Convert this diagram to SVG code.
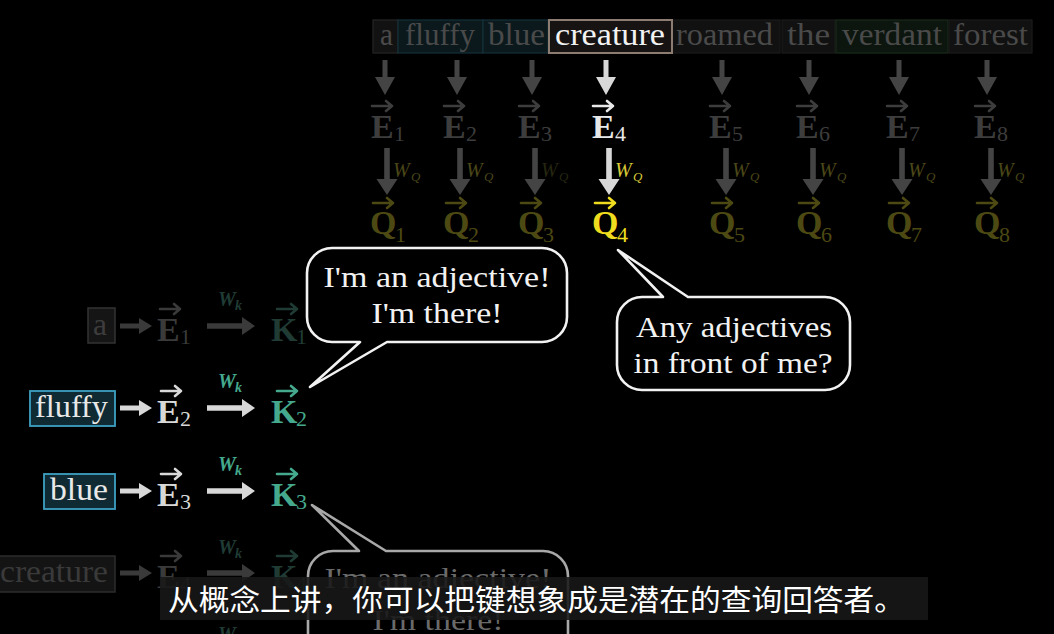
<svg xmlns="http://www.w3.org/2000/svg" xmlns:xlink="http://www.w3.org/1999/xlink" width="1054" height="634" viewBox="0 0 1054 634">
<style>
.word{font-family:"Liberation Serif","DejaVu Serif",serif;font-size:31px}
.vecl{font-family:"Liberation Serif","DejaVu Serif",serif;font-size:34px;font-weight:bold}
.sub{font-weight:normal;font-size:22px}
.wq{font-family:"Liberation Serif","DejaVu Serif",serif;font-size:20px;font-style:italic}
.wk{font-family:"Liberation Serif","DejaVu Serif",serif;font-size:20px;font-style:italic;font-weight:bold}
.bub{font-family:"Liberation Serif","DejaVu Serif",serif;font-size:30px;text-anchor:middle}
.fg{fill:#3d3d3d}
.fa{fill:#444}
.wh{fill:#e8e8e8}
.wa{fill:#d8d8d8}
.fq{fill:#4d4913}
.fw{fill:#4a4718}
.yq{fill:#f0dc1f}
.yw{fill:#d8c838}
.tl{fill:#45a98d}
.ftl{fill:#1f3b34}
.vs{fill:none;stroke-width:2.6;stroke-linecap:round;stroke-linejoin:round}
.bubble{fill:#000;stroke:#f2f2f2;stroke-width:2.6;stroke-linejoin:round}
</style>
<defs>
<path id="vec" d="M0,0 H20 M14,-5 L20,0 L14,5"/>
<path id="da1" d="M-2.5,0 H2.5 V17 H10 L0,35 L-10,17 H-2.5 Z"/>
<path id="da2" d="M-2.8,0 H2.8 V31 H10.5 L0,47 L-10.5,31 H-2.8 Z"/>
<path id="ra1" d="M0,-2.5 H19 V-8 L32,0 L19,8 V2.5 H0 Z"/>
<path id="ra2" d="M0,-2.8 H35 V-9 L48,0 L35,9 V2.8 H0 Z"/>
</defs>
<rect width="1054" height="634" fill="#000"/>

<g id="sentence">
<rect x="373" y="20" width="25" height="33" fill="#121212" stroke="#262626" stroke-width="1.2"/>
<rect x="398" y="20" width="85" height="33" fill="#0b191d" stroke="#15303a" stroke-width="1.2"/>
<rect x="483" y="20" width="65" height="33" fill="#0b191d" stroke="#15303a" stroke-width="1.2"/>
<rect x="672" y="20" width="108" height="33" fill="#111" stroke="#1c1c1c" stroke-width="1.2"/>
<rect x="782" y="20" width="53" height="33" fill="#111" stroke="#1c1c1c" stroke-width="1.2"/>
<rect x="836" y="20" width="112" height="33" fill="#0c160e" stroke="#1a2a1c" stroke-width="1.2"/>
<rect x="949" y="20" width="83" height="33" fill="#111" stroke="#1c1c1c" stroke-width="1.2"/>
<rect x="549" y="20" width="123" height="33" fill="#161312" stroke="#8c7c72" stroke-width="2"/>
<text class="word" fill="#4a4a4a" x="380" y="45" textLength="13" lengthAdjust="spacingAndGlyphs">a</text>
<text class="word" fill="#4a4a4a" x="405" y="45" textLength="70" lengthAdjust="spacingAndGlyphs">fluffy</text>
<text class="word" fill="#4a4a4a" x="488" y="45" textLength="57" lengthAdjust="spacingAndGlyphs">blue</text>
<text class="word" fill="#f2f2f2" x="555" y="45" textLength="110" lengthAdjust="spacingAndGlyphs">creature</text>
<text class="word" fill="#4a4a4a" x="676" y="45" textLength="97" lengthAdjust="spacingAndGlyphs">roamed</text>
<text class="word" fill="#4a4a4a" x="787" y="45" textLength="43" lengthAdjust="spacingAndGlyphs">the</text>
<text class="word" fill="#4a4a4a" x="842" y="45" textLength="100" lengthAdjust="spacingAndGlyphs">verdant</text>
<text class="word" fill="#4a4a4a" x="953" y="45" textLength="75" lengthAdjust="spacingAndGlyphs">forest</text>
</g>

<g id="E-top">
<g id="E1"><use href="#vec" x="372" y="106" class="vs" stroke="#3d3d3d"/><text class="vecl fg" x="371" y="138">E<tspan class="sub" x="394" y="141">1</tspan></text></g>
<g id="E2"><use href="#vec" x="444" y="106" class="vs" stroke="#3d3d3d"/><text class="vecl fg" x="443" y="138">E<tspan class="sub" x="466" y="141">2</tspan></text></g>
<g id="E3"><use href="#vec" x="519" y="106" class="vs" stroke="#3d3d3d"/><text class="vecl fg" x="518" y="138">E<tspan class="sub" x="541" y="141">3</tspan></text></g>
<g id="E4"><use href="#vec" x="593" y="106" class="vs" stroke="#e8e8e8"/><text class="vecl wh" x="592" y="138">E<tspan class="sub" x="615" y="141">4</tspan></text></g>
<g id="E5"><use href="#vec" x="710" y="106" class="vs" stroke="#3d3d3d"/><text class="vecl fg" x="709" y="138">E<tspan class="sub" x="732" y="141">5</tspan></text></g>
<g id="E6"><use href="#vec" x="797" y="106" class="vs" stroke="#3d3d3d"/><text class="vecl fg" x="796" y="138">E<tspan class="sub" x="819" y="141">6</tspan></text></g>
<g id="E7"><use href="#vec" x="887" y="106" class="vs" stroke="#3d3d3d"/><text class="vecl fg" x="886" y="138">E<tspan class="sub" x="909" y="141">7</tspan></text></g>
<g id="E8"><use href="#vec" x="975" y="106" class="vs" stroke="#3d3d3d"/><text class="vecl fg" x="974" y="138">E<tspan class="sub" x="997" y="141">8</tspan></text></g>
</g>

<g id="Q-top">
<g id="Q1"><use href="#vec" x="373" y="203" class="vs" stroke="#4d4913"/><text class="vecl fq" x="370" y="234">Q<tspan class="sub" x="395" y="242">1</tspan></text></g>
<g id="Q2"><use href="#vec" x="446" y="203" class="vs" stroke="#4d4913"/><text class="vecl fq" x="443" y="234">Q<tspan class="sub" x="468" y="242">2</tspan></text></g>
<g id="Q3"><use href="#vec" x="521" y="203" class="vs" stroke="#4d4913"/><text class="vecl fq" x="518" y="234">Q<tspan class="sub" x="543" y="242">3</tspan></text></g>
<g id="Q4"><use href="#vec" x="595" y="203" class="vs" stroke="#f0dc1f"/><text class="vecl yq" x="592" y="234">Q<tspan class="sub" x="617" y="242">4</tspan></text></g>
<g id="Q5"><use href="#vec" x="712" y="203" class="vs" stroke="#4d4913"/><text class="vecl fq" x="709" y="234">Q<tspan class="sub" x="734" y="242">5</tspan></text></g>
<g id="Q6"><use href="#vec" x="799" y="203" class="vs" stroke="#4d4913"/><text class="vecl fq" x="796" y="234">Q<tspan class="sub" x="821" y="242">6</tspan></text></g>
<g id="Q7"><use href="#vec" x="889" y="203" class="vs" stroke="#4d4913"/><text class="vecl fq" x="886" y="234">Q<tspan class="sub" x="911" y="242">7</tspan></text></g>
<g id="Q8"><use href="#vec" x="977" y="203" class="vs" stroke="#4d4913"/><text class="vecl fq" x="974" y="234">Q<tspan class="sub" x="999" y="242">8</tspan></text></g>
</g>

<g id="WQ-labels">
<text class="wq fw" x="393" y="177">W<tspan font-size="13" x="411" y="181">Q</tspan></text>
<text class="wq fw" x="466" y="177">W<tspan font-size="13" x="484" y="181">Q</tspan></text>
<text class="wq" fill="#262610" x="541" y="177">W<tspan font-size="13" x="559" y="181">Q</tspan></text>
<text class="wq yw" x="615" y="177">W<tspan font-size="13" x="633" y="181">Q</tspan></text>
<text class="wq fw" x="732" y="177">W<tspan font-size="13" x="750" y="181">Q</tspan></text>
<text class="wq fw" x="819" y="177">W<tspan font-size="13" x="837" y="181">Q</tspan></text>
<text class="wq fw" x="908" y="177">W<tspan font-size="13" x="926" y="181">Q</tspan></text>
<text class="wq fw" x="997" y="177">W<tspan font-size="13" x="1015" y="181">Q</tspan></text>
</g>

<g id="row-a">
<rect x="88" y="308" width="27" height="35" fill="#151515" stroke="#333" stroke-width="1.5"/>
<text class="word" fill="#3d3d3d" x="93" y="335" textLength="14" lengthAdjust="spacingAndGlyphs">a</text>
<use href="#vec" x="160" y="309" class="vs" stroke="#3a3a3a"/>
<text class="vecl" fill="#3a3a3a" x="157" y="341">E<tspan class="sub" x="180" y="344">1</tspan></text>
<text class="wk ftl" x="218" y="306">W<tspan font-size="14" x="235" y="310">k</tspan></text>
<use href="#vec" x="277" y="309" class="vs" stroke="#1f3b34"/>
<text class="vecl ftl" x="271" y="341">K<tspan class="sub" x="296" y="344">1</tspan></text>
</g>
<g id="row-fluffy">
<rect x="30" y="391" width="85" height="35" fill="#0f2a33" stroke="#3ea0c2" stroke-width="1.8"/>
<text class="word" fill="#e8e8e8" x="35" y="417" textLength="73" lengthAdjust="spacingAndGlyphs">fluffy</text>
<use href="#vec" x="161" y="391" class="vs" stroke="#d8d8d8"/>
<text class="vecl" fill="#d8d8d8" x="157" y="423">E<tspan class="sub" x="180" y="426">2</tspan></text>
<text class="wk tl" x="218" y="388">W<tspan font-size="14" x="235" y="392">k</tspan></text>
<use href="#vec" x="277" y="391" class="vs" stroke="#45a98d"/>
<text class="vecl tl" x="271" y="423">K<tspan class="sub" x="296" y="426">2</tspan></text>
</g>
<g id="row-blue">
<rect x="44" y="474" width="71" height="35" fill="#0f2a33" stroke="#3ea0c2" stroke-width="1.8"/>
<text class="word" fill="#e8e8e8" x="50" y="500" textLength="58" lengthAdjust="spacingAndGlyphs">blue</text>
<use href="#vec" x="161" y="474" class="vs" stroke="#d8d8d8"/>
<text class="vecl" fill="#d8d8d8" x="157" y="506">E<tspan class="sub" x="180" y="509">3</tspan></text>
<text class="wk tl" x="218" y="471">W<tspan font-size="14" x="235" y="475">k</tspan></text>
<use href="#vec" x="277" y="474" class="vs" stroke="#45a98d"/>
<text class="vecl tl" x="271" y="506">K<tspan class="sub" x="296" y="509">3</tspan></text>
</g>
<g id="row-creature">
<rect x="-2" y="556" width="117" height="36" fill="#141414" stroke="#2c2c2c" stroke-width="1.5"/>
<text class="word" fill="#3a3a3a" x="0" y="582" textLength="108" lengthAdjust="spacingAndGlyphs">creature</text>
<use href="#vec" x="161" y="556" class="vs" stroke="#3a3a3a"/>
<text class="vecl" fill="#3a3a3a" x="157" y="588">E<tspan class="sub" x="180" y="591">4</tspan></text>
<text class="wk ftl" x="218" y="554">W<tspan font-size="14" x="235" y="558">k</tspan></text>
<use href="#vec" x="277" y="556" class="vs" stroke="#1f3b34"/>
<text class="vecl ftl" x="271" y="588">K<tspan class="sub" x="296" y="591">4</tspan></text>
<text class="wk ftl" x="218" y="641">W<tspan font-size="14" x="235" y="645">k</tspan></text>
</g>

<g id="connectors">
<use href="#da1" x="385" y="60" class="fa"/>
<use href="#da1" x="457" y="60" class="fa"/>
<use href="#da1" x="532" y="60" class="fa"/>
<use href="#da1" x="606" y="60" class="wa"/>
<use href="#da1" x="722" y="60" class="fa"/>
<use href="#da1" x="809" y="60" class="fa"/>
<use href="#da1" x="899" y="60" class="fa"/>
<use href="#da1" x="987" y="60" class="fa"/>
<use href="#da2" x="387" y="148" class="fa"/>
<use href="#da2" x="460" y="148" class="fa"/>
<use href="#da2" x="535" y="148" class="fa"/>
<use href="#da2" x="609" y="148" class="wa"/>
<use href="#da2" x="726" y="148" class="fa"/>
<use href="#da2" x="813" y="148" class="fa"/>
<use href="#da2" x="902" y="148" class="fa"/>
<use href="#da2" x="991" y="148" class="fa"/>
<use href="#ra1" x="120" y="326" fill="#3a3a3a"/>
<use href="#ra2" x="207" y="326" fill="#3a3a3a"/>
<use href="#ra1" x="120" y="408" class="wa"/>
<use href="#ra2" x="207" y="408" class="wa"/>
<use href="#ra1" x="120" y="491" class="wa"/>
<use href="#ra2" x="207" y="491" class="wa"/>
<use href="#ra1" x="120" y="573" fill="#3a3a3a"/>
<use href="#ra2" x="207" y="573" fill="#3a3a3a"/>
</g>

<g id="bubble-key2">
<path class="bubble" d="M332,248 H542 A25,25 0 0 1 567,273 V317 A25,25 0 0 1 542,342 H387 L310,387 L360,342 H332 A25,25 0 0 1 307,317 V273 A25,25 0 0 1 332,248 Z"/>
<text class="bub" fill="#f2f2f2" x="437" y="287" textLength="227" lengthAdjust="spacingAndGlyphs">I'm an adjective!</text>
<text class="bub" fill="#f2f2f2" x="437" y="323" textLength="131" lengthAdjust="spacingAndGlyphs">I'm there!</text>
</g>
<g id="bubble-query4">
<path class="bubble" d="M642,297 H663 L618,250 L688,297 H825 A25,25 0 0 1 850,322 V365 A25,25 0 0 1 825,390 H642 A25,25 0 0 1 617,365 V322 A25,25 0 0 1 642,297 Z"/>
<text class="bub" fill="#f2f2f2" x="734" y="337" textLength="196" lengthAdjust="spacingAndGlyphs">Any adjectives</text>
<text class="bub" fill="#f2f2f2" x="733" y="373" textLength="199" lengthAdjust="spacingAndGlyphs">in front of me?</text>
</g>
<g id="bubble-key3">
<path class="bubble" style="stroke:#a8a8a8" d="M333,551 H359 L312,505 L386,551 H543 A25,25 0 0 1 568,576 V660 H308 V576 A25,25 0 0 1 333,551 Z"/>
<text class="bub" fill="#6a6a6a" x="438" y="588" textLength="227" lengthAdjust="spacingAndGlyphs">I'm an adjective!</text>
<text class="bub" fill="#6a6a6a" x="438" y="630" textLength="131" lengthAdjust="spacingAndGlyphs">I'm there!</text>
</g>

<g id="subtitle">
<rect x="160" y="577" width="768" height="43" fill="#181818" fill-opacity="0.88"/>
<text x="168" y="611" font-family="'Noto Sans CJK SC','Noto Sans',sans-serif" font-size="29" fill="#ffffff" textLength="737" lengthAdjust="spacingAndGlyphs">从概念上讲，你可以把键想象成是潜在的查询回答者。</text>
</g>
</svg>
